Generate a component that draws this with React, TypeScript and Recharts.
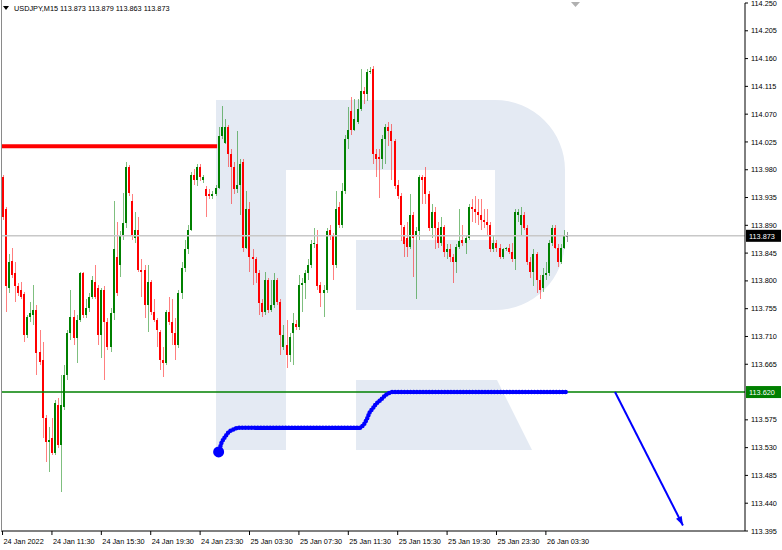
import React from 'react'
import { ComposedChart, Bar, Line, XAxis, YAxis, ReferenceLine } from 'recharts'

// USDJPY M15 candles: [open, high, low, close]
const ohlc: [number, number, number, number][] = [
  [113.968, 113.972, 113.899, 113.904], [113.916, 113.919, 113.750, 113.791], [113.789, 113.843, 113.781, 113.831],
  [113.833, 113.854, 113.805, 113.810], [113.813, 113.830, 113.766, 113.791], [113.791, 113.797, 113.776, 113.781],
  [113.786, 113.799, 113.770, 113.774], [113.778, 113.782, 113.701, 113.713], [113.713, 113.745, 113.708, 113.742],
  [113.742, 113.766, 113.734, 113.748], [113.745, 113.794, 113.729, 113.753], [113.753, 113.761, 113.648, 113.684],
  [113.685, 113.721, 113.664, 113.669], [113.672, 113.701, 113.546, 113.578], [113.578, 113.583, 113.506, 113.539],
  [113.539, 113.563, 113.490, 113.542], [113.546, 113.578, 113.518, 113.521], [113.521, 113.607, 113.518, 113.602],
  [113.599, 113.610, 113.529, 113.534], [113.534, 113.648, 113.458, 113.599], [113.596, 113.664, 113.591, 113.648],
  [113.648, 113.721, 113.640, 113.716], [113.716, 113.786, 113.705, 113.742], [113.742, 113.753, 113.696, 113.708],
  [113.708, 113.745, 113.667, 113.737], [113.737, 113.815, 113.734, 113.812], [113.812, 113.815, 113.740, 113.745],
  [113.745, 113.770, 113.740, 113.756], [113.756, 113.781, 113.750, 113.774], [113.774, 113.808, 113.770, 113.802],
  [113.799, 113.825, 113.770, 113.774], [113.789, 113.794, 113.696, 113.713], [113.713, 113.789, 113.675, 113.786],
  [113.786, 113.791, 113.640, 113.734], [113.734, 113.740, 113.688, 113.693], [113.693, 113.756, 113.685, 113.748],
  [113.748, 113.929, 113.737, 113.851], [113.839, 113.896, 113.776, 113.781], [113.826, 113.880, 113.807, 113.872],
  [113.872, 113.943, 113.867, 113.894], [113.894, 113.992, 113.886, 113.984], [113.984, 113.987, 113.938, 113.943],
  [113.929, 113.940, 113.867, 113.872], [113.870, 113.911, 113.862, 113.883], [113.883, 113.904, 113.815, 113.818],
  [113.818, 113.836, 113.774, 113.815], [113.818, 113.826, 113.740, 113.761], [113.761, 113.826, 113.718, 113.799],
  [113.799, 113.802, 113.745, 113.750], [113.750, 113.770, 113.734, 113.737], [113.737, 113.740, 113.693, 113.721],
  [113.718, 113.721, 113.656, 113.672], [113.672, 113.693, 113.644, 113.667], [113.667, 113.753, 113.664, 113.750],
  [113.750, 113.774, 113.729, 113.734], [113.734, 113.770, 113.696, 113.716], [113.716, 113.740, 113.672, 113.696],
  [113.696, 113.786, 113.692, 113.781], [113.781, 113.831, 113.770, 113.821], [113.821, 113.867, 113.815, 113.851],
  [113.851, 113.891, 113.843, 113.883], [113.883, 113.977, 113.880, 113.972], [113.972, 113.981, 113.956, 113.964],
  [113.964, 113.989, 113.953, 113.984], [113.984, 113.989, 113.961, 113.968], [113.964, 113.971, 113.959, 113.968],
  [113.948, 113.953, 113.904, 113.937], [113.940, 113.948, 113.932, 113.937], [113.937, 113.945, 113.932, 113.940],
  [113.940, 113.956, 113.937, 113.951], [113.951, 114.050, 113.948, 114.034], [114.034, 114.083, 114.029, 114.049],
  [114.024, 114.062, 114.021, 114.049], [114.049, 114.052, 113.984, 114.005], [114.005, 114.013, 113.924, 113.985],
  [113.985, 113.992, 113.940, 113.948], [113.948, 114.042, 113.943, 113.956], [113.956, 113.997, 113.907, 113.989],
  [113.992, 113.997, 113.846, 113.854], [113.854, 113.945, 113.851, 113.916], [113.916, 113.927, 113.815, 113.839],
  [113.839, 113.851, 113.794, 113.836], [113.836, 113.838, 113.797, 113.813], [113.813, 113.818, 113.745, 113.765],
  [113.765, 113.770, 113.742, 113.750], [113.750, 113.815, 113.745, 113.802], [113.802, 113.805, 113.748, 113.753],
  [113.753, 113.802, 113.750, 113.761], [113.761, 113.813, 113.756, 113.802], [113.802, 113.805, 113.761, 113.766],
  [113.766, 113.770, 113.680, 113.713], [113.693, 113.729, 113.688, 113.713], [113.696, 113.737, 113.659, 113.680],
  [113.680, 113.716, 113.669, 113.709], [113.716, 113.748, 113.664, 113.732], [113.731, 113.737, 113.721, 113.726],
  [113.726, 113.810, 113.721, 113.794], [113.794, 113.805, 113.750, 113.797], [113.797, 113.818, 113.770, 113.813],
  [113.813, 113.836, 113.802, 113.826], [113.826, 113.867, 113.821, 113.859], [113.859, 113.886, 113.854, 113.862],
  [113.859, 113.883, 113.786, 113.791], [113.794, 113.799, 113.758, 113.781], [113.781, 113.794, 113.742, 113.786],
  [113.786, 113.886, 113.781, 113.880], [113.883, 113.891, 113.867, 113.872], [113.872, 113.878, 113.802, 113.826],
  [113.826, 113.945, 113.821, 113.916], [113.919, 113.927, 113.886, 113.891], [113.891, 113.959, 113.886, 113.945],
  [113.945, 114.037, 113.940, 114.029], [114.029, 114.081, 114.013, 114.045], [114.075, 114.097, 114.037, 114.045],
  [114.045, 114.094, 114.042, 114.062], [114.058, 114.094, 114.054, 114.078], [114.078, 114.143, 114.075, 114.107],
  [114.107, 114.114, 114.086, 114.102], [114.102, 114.143, 114.091, 114.138], [114.138, 114.146, 114.135, 114.140],
  [114.143, 114.148, 113.989, 114.005], [114.005, 114.013, 113.969, 113.997], [114.000, 114.013, 113.935, 113.997],
  [113.997, 114.037, 113.981, 114.029], [114.029, 114.054, 113.989, 114.049], [114.050, 114.058, 114.018, 114.042],
  [114.042, 114.054, 113.964, 114.026], [114.026, 114.029, 113.948, 113.953], [113.956, 113.964, 113.932, 113.937],
  [113.937, 113.943, 113.864, 113.891], [113.888, 113.891, 113.839, 113.859], [113.870, 113.896, 113.838, 113.855],
  [113.855, 113.940, 113.851, 113.907], [113.907, 113.911, 113.807, 113.870], [113.872, 113.888, 113.770, 113.880],
  [113.880, 113.972, 113.867, 113.969], [113.969, 113.972, 113.924, 113.964], [113.969, 113.985, 113.924, 113.940],
  [113.940, 113.945, 113.880, 113.886], [113.886, 113.924, 113.870, 113.912], [113.912, 113.919, 113.851, 113.886],
  [113.886, 113.896, 113.854, 113.862], [113.862, 113.903, 113.857, 113.888], [113.888, 113.891, 113.838, 113.846],
  [113.846, 113.859, 113.836, 113.851], [113.851, 113.859, 113.831, 113.838], [113.838, 113.843, 113.797, 113.830],
  [113.830, 113.859, 113.813, 113.855], [113.855, 113.916, 113.851, 113.864], [113.867, 113.891, 113.857, 113.862],
  [113.862, 113.875, 113.843, 113.870], [113.870, 113.924, 113.867, 113.920], [113.920, 113.932, 113.896, 113.916],
  [113.916, 113.938, 113.894, 113.912], [113.912, 113.932, 113.891, 113.907], [113.907, 113.932, 113.883, 113.899],
  [113.899, 113.916, 113.886, 113.896], [113.896, 113.916, 113.875, 113.891], [113.891, 113.896, 113.846, 113.851],
  [113.851, 113.875, 113.846, 113.862], [113.862, 113.867, 113.847, 113.854], [113.854, 113.859, 113.836, 113.839],
  [113.839, 113.854, 113.836, 113.852], [113.852, 113.855, 113.849, 113.854], [113.854, 113.859, 113.843, 113.847],
  [113.847, 113.862, 113.830, 113.836], [113.836, 113.916, 113.818, 113.911], [113.907, 113.916, 113.896, 113.911],
  [113.891, 113.919, 113.875, 113.907], [113.907, 113.912, 113.883, 113.886], [113.886, 113.890, 113.826, 113.831],
  [113.831, 113.838, 113.805, 113.815], [113.815, 113.851, 113.791, 113.843], [113.843, 113.847, 113.781, 113.802],
  [113.802, 113.810, 113.770, 113.786], [113.789, 113.821, 113.782, 113.810], [113.810, 113.831, 113.802, 113.813],
  [113.813, 113.867, 113.808, 113.862], [113.862, 113.891, 113.857, 113.886], [113.886, 113.890, 113.851, 113.854],
  [113.854, 113.859, 113.823, 113.831], [113.831, 113.859, 113.828, 113.854], [113.854, 113.883, 113.851, 113.875],
  [113.873, 113.879, 113.863, 113.873],
]

const timeLabels = [
  '24 Jan 2022', '24 Jan 11:30', '24 Jan 15:30', '24 Jan 19:30', '24 Jan 23:30', '25 Jan 03:30',
  '25 Jan 07:30', '25 Jan 11:30', '25 Jan 15:30', '25 Jan 19:30', '25 Jan 23:30', '26 Jan 03:30',
]
const timeTickIdx = [0, 16, 32, 48, 64, 80, 96, 112, 128, 144, 160, 176]

const priceTicks = [
  113.395, 113.44, 113.485, 113.53, 113.575, 113.665, 113.71, 113.755, 113.8, 113.845,
  113.89, 113.935, 113.98, 114.025, 114.07, 114.115, 114.16, 114.205, 114.25,
]

const lastPrice = 113.873
const supportLevel = 113.62
const resistanceLevel = 114.018
const resistanceFrom = -0.5
const resistanceTo = 69.5

// blue dotted indicator path (bar index, price)
const blueIdx = [70, 71, 72, 73, 74, 75, 76, 116, 117, 118, 119, 120, 121, 122, 123, 124, 125, 126, 183]
const blueVal = [
  113.523, 113.539, 113.547, 113.554, 113.558, 113.56, 113.562, 113.562, 113.567, 113.576,
  113.588, 113.594, 113.601, 113.605, 113.61, 113.615, 113.618, 113.62, 113.62,
]

// forecast arrow
const arrowIdx = [198.4, 220.4]
const arrowVal = [113.62, 113.404]

const FONT = '"Liberation Sans", Arial, sans-serif'
const GREEN = '#008000'
const RED = '#ff0000'
const BLUE = '#0000ff'

const candleData = ohlc.map(([o, h, l, c], i) => ({ i, o, h, l, c }))
const bluePath = blueIdx.map((i, k) => ({ i, v: blueVal[k] }))
const arrowPath = arrowIdx.map((i, k) => ({ i, v: arrowVal[k] }))

const Candle = (props: any) => {
  const { x, y, width, height, payload } = props
  if (!payload || y == null || height == null) return <g />
  const { o, h, l, c } = payload
  const span = h - l || 1
  const py = (p: number) => y + ((h - p) / span) * height
  const cx = Math.round(x + width / 2)
  const color = c === o ? '#333333' : c > o ? GREEN : RED
  const top = py(Math.max(o, c))
  const bot = py(Math.min(o, c))
  return (
    <g>
      <rect x={cx} y={py(h)} width={1} height={Math.max(1, py(l) - py(h))} fill={color} opacity={0.5} shapeRendering="crispEdges" />
      <rect x={cx - 1} y={top} width={2} height={Math.max(1, bot - top)} fill={color} shapeRendering="crispEdges" />
    </g>
  )
}

const TimeTick = ({ x, y, payload }: any) => {
  const k = timeTickIdx.indexOf(payload.value)
  return (
    <text x={x + 1} y={y} dy={7} textAnchor="start" fontSize={7.3} fontFamily={FONT} fill="#000">
      {timeLabels[k]}
    </text>
  )
}

const priceTag = (bg: string, value: number) => (props: any) => {
  const vb = props.viewBox || {}
  const x = (vb.x ?? 0) + (vb.width ?? 0) + 1
  const y = vb.y ?? 0
  return (
    <g>
      <rect x={x} y={y - 6} width={35} height={12} fill={bg} />
      <text x={x + 3} y={y + 3} fontSize={7.3} fontFamily={FONT} fill="#fff">
        {value.toFixed(3)}
      </text>
    </g>
  )
}

const blueDot = (props: any) => {
  if (props.index !== 0) return <g key={`b${props.index}`} />
  return <circle key="b0" cx={props.cx} cy={props.cy} r={5.5} fill={BLUE} />
}

const arrowHead = (props: any) => {
  const { cx, cy, index, points } = props
  if (index !== 1) return <g key={`a${index}`} />
  const prev = points && points[0]
  const ang = prev ? Math.atan2(cy - prev.y, cx - prev.x) : 1.1
  const len = 9
  const half = 3.2
  const bx = cx - len * Math.cos(ang)
  const by = cy - len * Math.sin(ang)
  const nx = -Math.sin(ang) * half
  const ny = Math.cos(ang) * half
  return (
    <polygon
      key="a1"
      points={`${cx},${cy} ${bx + nx},${by + ny} ${bx - nx},${by - ny}`}
      fill={BLUE}
    />
  )
}

export default function App() {
  return (
    <div style={{ position: 'fixed', left: 0, top: 0, width: 782, height: 550, background: '#fff', overflow: 'hidden' }}>
      {/* broker logo watermark */}
      <svg width={782} height={550} style={{ position: 'absolute', left: 0, top: 0 }}>
        <path
          d="M216,100 H495 A70,70 0 0 1 565,170 V240 A70,70 0 0 1 495,310 H356 V240 H495 V170 H286 V450 H216 Z"
          fill="#e4eaf3"
        />
        <path d="M356,380 H497 L532,450 H356 Z" fill="#e4eaf3" />
      </svg>

      <div style={{ position: 'absolute', left: 0, top: 0 }}>
        <ComposedChart width={782} height={550} data={candleData} margin={{ top: 3, right: 0, left: 1, bottom: 0 }}>
          <XAxis
            dataKey="i"
            type="number"
            domain={[-0.5, 240.5]}
            allowDataOverflow
            ticks={timeTickIdx}
            interval={0}
            height={19}
            tickSize={4}
            tickMargin={2}
            axisLine={{ stroke: '#000' }}
            tickLine={{ stroke: '#000' }}
            tick={<TimeTick />}
          />
          <YAxis
            orientation="right"
            type="number"
            domain={[113.395, 114.25]}
            allowDataOverflow
            ticks={priceTicks}
            interval={0}
            width={37}
            tickSize={3}
            tickMargin={3}
            axisLine={{ stroke: '#000' }}
            tickLine={{ stroke: '#000' }}
            tickFormatter={(v: number) => v.toFixed(3)}
            tick={{ fontSize: 7.3, fill: '#000', fontFamily: FONT }}
          />
          <ReferenceLine y={lastPrice} stroke="#c8c8c8" strokeWidth={1.5} label={priceTag('#000', lastPrice)} />
          <ReferenceLine y={supportLevel} stroke={GREEN} strokeWidth={1.6} label={priceTag(GREEN, supportLevel)} />
          <ReferenceLine
            segment={[{ x: resistanceFrom, y: resistanceLevel }, { x: resistanceTo, y: resistanceLevel }]}
            stroke={RED}
            strokeWidth={4}
          />
          <Bar dataKey={(d: any) => [d.l, d.h]} barSize={3} shape={<Candle />} isAnimationActive={false} />
          <Line
            data={bluePath}
            dataKey="v"
            type="linear"
            stroke={BLUE}
            strokeWidth={4.5}
            strokeLinecap="round"
            strokeDasharray="0 3.1"
            dot={blueDot}
            activeDot={false}
            isAnimationActive={false}
          />
          <Line
            data={arrowPath}
            dataKey="v"
            type="linear"
            stroke={BLUE}
            strokeWidth={2}
            dot={arrowHead}
            activeDot={false}
            isAnimationActive={false}
          />
        </ComposedChart>
      </div>

      {/* left frame edge */}
      <div style={{ position: 'absolute', left: 1, top: 0, width: 1, height: 531, background: '#8a8a8a' }} />

      {/* symbol caption */}
      <svg width={782} height={20} style={{ position: 'absolute', left: 0, top: 0, pointerEvents: 'none' }}>
        <polygon points="3,6 9,6 6,10" fill="#000" />
        <text x={14} y={11} fontSize={7.3} fontFamily={FONT} fill="#000">
          USDJPY,M15  113.873 113.879 113.863 113.873
        </text>
        <polygon points="571,2 580,2 575.5,7" fill="#b0b0b0" />
      </svg>
    </div>
  )
}
